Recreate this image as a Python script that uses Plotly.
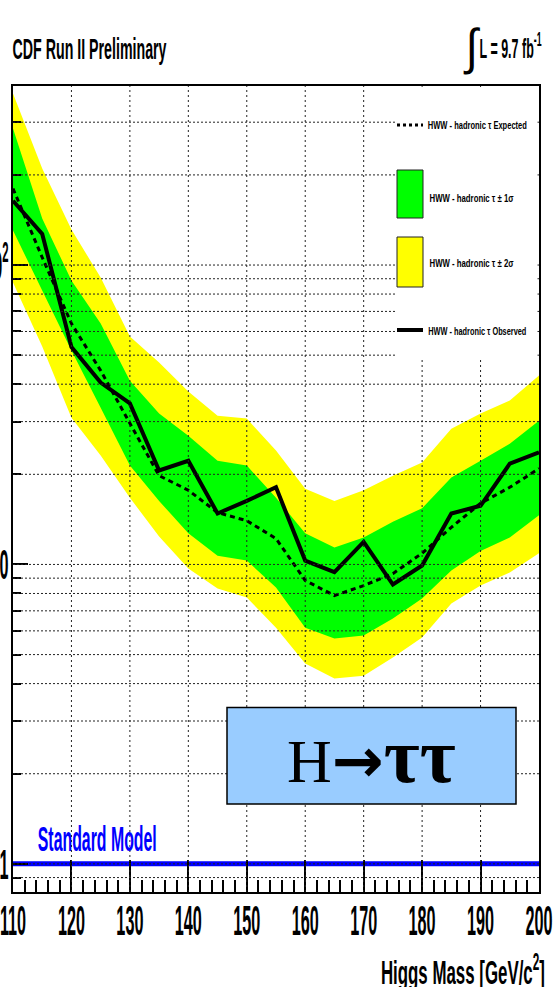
import json
import plotly.graph_objects as go

# ---------------- data ----------------
mass = [110, 115, 120, 125, 130, 135, 140, 145, 150, 155, 160, 165, 170, 175, 180, 185, 190, 195, 200]
observed = [164, 127, 53.2, 40.5, 34.5, 20.6, 22.2, 14.8, 16.3, 18.1, 10.3, 9.42, 11.9, 8.57, 9.92, 14.8, 15.7, 21.7, 23.7]
expected = [180, 106, 63.8, 44.4, 29.6, 19.8, 17.7, 14.9, 14.0, 12.2, 8.84, 7.87, 8.50, 9.32, 10.9, 13.3, 16.0, 18.1, 20.9]
sigma1_lo = [130.4, 82.2, 51.8, 33.4, 21.4, 16.3, 12.7, 10.7, 10.3, 8.37, 6.15, 5.66, 5.79, 6.60, 7.69, 9.54, 11.1, 12.3, 14.6]
sigma1_hi = [286, 143, 88.8, 63.8, 41.1, 31.9, 26.9, 22.2, 21.4, 16.7, 12.7, 11.4, 12.3, 13.9, 15.4, 19.5, 22.2, 25.3, 30.2]
sigma2_lo = [87.4, 53.4, 30.9, 23.1, 16.7, 12.4, 9.69, 8.31, 7.75, 6.15, 4.67, 4.16, 4.25, 4.89, 5.70, 7.40, 8.50, 9.40, 10.9]
sigma2_hi = [374, 210, 131.4, 90.8, 57.7, 47.3, 37.8, 31.4, 30.7, 24.0, 17.9, 16.3, 17.7, 19.8, 21.9, 28.4, 31.9, 35.3, 42.8]
sm_mass = [110, 200]
sm_value = [1, 1]

x_major_ticks = [110, 120, 130, 140, 150, 160, 170, 180, 190, 200]
x_grid = [120, 130, 140, 150, 160, 170, 180, 190]
y_major_ticks = [1, 10, 100]
y_major_text = ["1", "10", "10<sup>2</sup>"]
y_minor_ticks = [0.9, 2, 3, 4, 5, 6, 7, 8, 9, 20, 30, 40, 50, 60, 70, 80, 90, 200, 300]
y_grid = [0.9, 1, 2, 3, 4, 5, 6, 7, 8, 9, 10, 20, 30, 40, 50, 60, 70, 80, 90, 100, 200, 300]

legend_labels = ["HWW - hadronic τ Expected", "HWW - hadronic τ ± 1σ",
                 "HWW - hadronic τ ± 2σ", "HWW - hadronic τ Observed"]

# ---------------- layout geometry ----------------
W, H = 556, 987
PL, PR, PT, PB = 13, 539, 86, 892


def px(xp):
    return (xp - PL) / (PR - PL)


def py(yp):
    return (PB - yp) / (PB - PT)


FONT = "Liberation Sans, Arial, sans-serif"
SERIF = "Liberation Serif, Times New Roman, serif"

fig = go.Figure()

# 2 sigma band
fig.add_trace(go.Scatter(x=mass, y=sigma2_lo, mode="lines", line=dict(width=0, color="#FFFF00"),
                         showlegend=False, hoverinfo="skip"))
fig.add_trace(go.Scatter(x=mass, y=sigma2_hi, mode="lines", line=dict(width=0, color="#FFFF00"),
                         fill="tonexty", fillcolor="#FFFF00", showlegend=False, hoverinfo="skip"))
# 1 sigma band
fig.add_trace(go.Scatter(x=mass, y=sigma1_lo, mode="lines", line=dict(width=0, color="#00FF00"),
                         showlegend=False, hoverinfo="skip"))
fig.add_trace(go.Scatter(x=mass, y=sigma1_hi, mode="lines", line=dict(width=0, color="#00FF00"),
                         fill="tonexty", fillcolor="#00FF00", showlegend=False, hoverinfo="skip"))
# expected
fig.add_trace(go.Scatter(x=mass, y=expected, mode="lines",
                         line=dict(color="black", width=3, dash="5px,4px"), showlegend=False))
# observed
fig.add_trace(go.Scatter(x=mass, y=observed, mode="lines",
                         line=dict(color="black", width=4), showlegend=False))
# standard model
fig.add_trace(go.Scatter(x=sm_mass, y=sm_value, mode="lines",
                         line=dict(color="#0000FF", width=5), showlegend=False))

shapes = []
# dotted grid drawn above the bands
for gx in x_grid:
    shapes.append(dict(type="line", xref="x", yref="paper", x0=gx, x1=gx, y0=0, y1=1,
                       line=dict(color="#222222", width=1, dash="2px,3px"), layer="above"))
for gy in y_grid:
    shapes.append(dict(type="line", xref="paper", yref="y", x0=0, x1=1, y0=gy, y1=gy,
                       line=dict(color="#222222", width=1, dash="2px,2px"), layer="above"))

# legend background
shapes.append(dict(type="rect", xref="paper", yref="paper", x0=px(395), x1=px(537.5), y0=py(360), y1=py(87.5),
                   fillcolor="white", line=dict(width=0), layer="above"))
# legend samples
shapes.append(dict(type="line", xref="paper", yref="paper", x0=px(397), x1=px(423), y0=py(125), y1=py(125),
                   line=dict(color="black", width=3, dash="3px,3px"), layer="above"))
shapes.append(dict(type="rect", xref="paper", yref="paper", x0=px(397), x1=px(423), y0=py(218), y1=py(170),
                   fillcolor="#00FF00", line=dict(color="#222222", width=1), layer="above"))
shapes.append(dict(type="rect", xref="paper", yref="paper", x0=px(397), x1=px(423), y0=py(287), y1=py(237),
                   fillcolor="#FFFF00", line=dict(color="#222222", width=1), layer="above"))
shapes.append(dict(type="line", xref="paper", yref="paper", x0=px(397), x1=px(423), y0=py(330), y1=py(330),
                   line=dict(color="black", width=4), layer="above"))
# H -> tau tau box
shapes.append(dict(type="rect", xref="paper", yref="paper", x0=px(227), x1=px(516), y0=py(804), y1=py(707.5),
                   fillcolor="#99CCFF", line=dict(color="black", width=1.5), layer="above"))

annotations = []


def ann(text, xc, yc, size, color="black", family=FONT, weight="bold"):
    annotations.append(dict(text=text, x=px(xc), y=py(yc), xref="paper", yref="paper",
                            xanchor="center", yanchor="middle", showarrow=False,
                            font=dict(family=family, size=size, color=color, weight=weight)))


ann("CDF Run II Preliminary", 89.5, 48, 30)
ann("∫", 471.5, 47, 50, weight="normal")
ann("L = 9.7 fb<sup>-1</sup>", 510.5, 46, 28)
ann("Standard Model", 97.75, 838, 35, color="#0000FF")
ann("Higgs Mass [GeV/c<sup>2</sup>]", 463, 970, 33.5)
ann(legend_labels[0], 477.5, 125, 11.6)
ann(legend_labels[1], 471, 197, 11.6)
ann(legend_labels[2], 471, 262, 11.6)
ann(legend_labels[3], 477.5, 330, 11.6)
ann("H<span style='font-family:DejaVu Sans;font-weight:bold'>→</span>"
    "<span style='font-size:78px;font-weight:bold'>ττ</span>",
    371.5, 755, 62, family=SERIF, weight="normal")

fig.update_layout(
    template="none",
    width=W, height=H,
    margin=dict(l=PL, r=W - PR, t=PT, b=H - PB, pad=0, autoexpand=False),
    paper_bgcolor="white", plot_bgcolor="white",
    showlegend=False,
    shapes=shapes,
    annotations=annotations,
    xaxis=dict(range=[110, 200], showgrid=False, zeroline=False, automargin=False,
               showline=True, linecolor="black", linewidth=2, mirror=True,
               tickmode="array", tickvals=x_major_ticks, ticks="inside", ticklen=32, tickwidth=1.5,
               tickcolor="black", tickangle=0, ticklabelstandoff=-9, ticklabeloverflow="allow",
               tickfont=dict(family=FONT, size=42, color="black", weight="bold"),
               minor=dict(dtick=2, ticks="inside", ticklen=12, tickwidth=1.5, tickcolor="black",
                          showgrid=False)),
    yaxis=dict(type="log", range=[-0.094, 2.598], showgrid=False, zeroline=False, automargin=False,
               showline=True, linecolor="black", linewidth=2, mirror=True,
               tickmode="array", tickvals=y_major_ticks, ticktext=y_major_text,
               ticks="inside", ticklen=15, tickwidth=2, tickcolor="black", tickangle=0,
               tickfont=dict(family=FONT, size=42, color="black", weight="bold"),
               ticklabelstandoff=-6, ticklabeloverflow="allow",
               minor=dict(tickmode="array", tickvals=y_minor_ticks, ticks="inside", ticklen=8,
                          tickwidth=2, tickcolor="black", showgrid=False)),
)

# horizontal squeeze of the ROOT-style condensed text (keeps each text's anchor point)
targets = {
    "CDF Run II Preliminary": 154,
    "∫": 12,
    "L = 9.7 fb": 62,
    "Standard Model": 119,
    "Higgs Mass [GeV/c": 164,
    legend_labels[0]: 99,
    legend_labels[1]: 84,
    legend_labels[2]: 84,
    legend_labels[3]: 98,
}
post = """
var gd = document.getElementById('{plot_id}');
var targets = %s;
var tickFactor = 0.386;
gd.querySelectorAll('text').forEach(function(t){
  var s = (t.textContent || '').replace(/\\u200b/g, '');
  var w = t.getComputedTextLength();
  if (!w) return;
  var target = null;
  for (var k in targets) { if (s.indexOf(k) === 0) { target = targets[k]; break; } }
  if (target === null && t.closest('.xtick, .ytick')) target = w * tickFactor;
  if (target === null) return;
  var anchor = t.getAttribute('text-anchor') || window.getComputedStyle(t).textAnchor || 'start';
  var b0 = t.getBBox();
  t.setAttribute('textLength', target);
  t.setAttribute('lengthAdjust', 'spacingAndGlyphs');
  var b1 = t.getBBox();
  var shift;
  if (anchor === 'end') shift = (b0.x + b0.width) - (b1.x + b1.width);
  else if (anchor === 'middle') shift = (b0.x + b0.width / 2) - (b1.x + b1.width / 2);
  else shift = b0.x - b1.x;
  if (Math.abs(shift) > 0.5) {
    var x0 = parseFloat(t.getAttribute('x') || '0');
    t.setAttribute('x', x0 + shift);
  }
});
""" % json.dumps(targets)

fig.write_html("out.html", post_script=post)
